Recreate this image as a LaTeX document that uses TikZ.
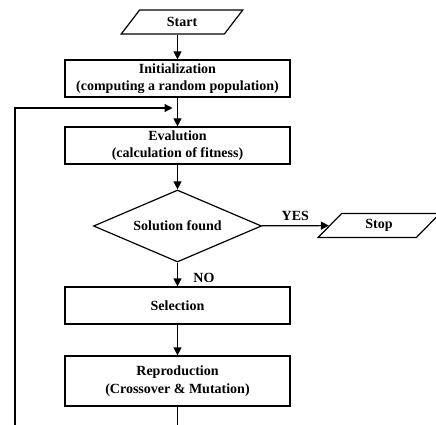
\documentclass[tikz,border=0pt]{standalone}
\usepackage{fontspec}
\setmainfont{Liberation Serif}
\usetikzlibrary{shapes.geometric,arrows.meta}
\tikzset{
	stepbox/.style={draw, line width=1.2pt, minimum width=225pt, minimum height=37pt, align=center, inner sep=2pt},
	iobox/.style={draw, line width=1.2pt, trapezium, trapezium left angle=55, trapezium right angle=125, trapezium stretches=true, minimum width=122pt, minimum height=24pt, inner sep=0pt},
	decision/.style={draw, line width=1.2pt, diamond, aspect=2.33, minimum width=168pt, minimum height=72pt, inner sep=0pt},
	flow/.style={line width=1.2pt, -{Triangle[length=8pt,width=8pt]}}
}
\begin{document}
\begin{tikzpicture}[x=1pt, y=-1pt, font=\fontsize{14}{17.5}\selectfont\bfseries]
	\useasboundingbox (0,0) rectangle (436,425);
	\node[iobox] (start) at (182,22) {Start};
	\node[stepbox] (init) at (177.5,78.5) {Initialization\\(computing a random population)};
	\node[stepbox] (eval) at (177.5,145.5) {Evalution\\(calculation of fitness)};
	\node[decision] (found) at (177.5,226) {Solution found};
	\node[iobox] (stop) at (379,225.5) {Stop};
	\node[stepbox] (select) at (177.5,305.5) {Selection};
	\node[stepbox, minimum height=50pt] (repro) at (177.5,381) {Reproduction\\(Crossover \& Mutation)};
	\coordinate (join) at (177.5,108);
	\coordinate (bottom) at (15,436);
	\draw[flow] (init.north |- start.south) -- (init);
	\draw[flow] (init) -- (eval);
	\draw[flow] (eval) -- (found);
	\draw[flow] (found) -- node[above, yshift=1pt] {YES} (stop);
	\draw[flow] (found) -- node[right, xshift=12pt, yshift=-3pt] {NO} (select);
	\draw[flow] (select) -- (repro);
	\draw[flow, shorten >=5pt] (repro) |- (bottom) |- (join);
\end{tikzpicture}
\end{document}
